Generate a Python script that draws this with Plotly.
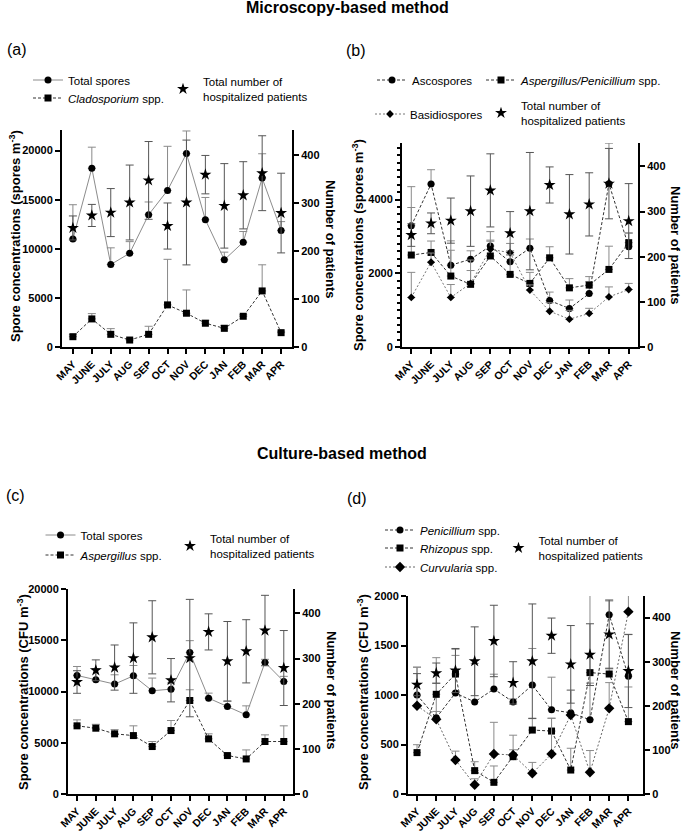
import plotly.graph_objects as go

# ---------------- data ----------------
months = ["MAY", "JUNE", "JULY", "AUG", "SEP", "OCT", "NOV", "DEC", "JAN", "FEB", "MAR", "APR"]

patients = [248, 274, 280, 301, 347, 252, 301, 359, 294, 316, 362, 279]
patients_sd = [25, 23, 50, 78, 81, 48, 130, 40, 88, 70, 78, 83]

# (a) microscopy: total spores and Cladosporium
total_micro = [11000, 18200, 8400, 9550, 13470, 15950, 19700, 12960, 8880, 10680, 17200, 11870]
total_micro_up = [3490, 2150, 1700, 1180, 1300, 4490, 2300, 2270, 780, 1080, 2480, 900]
clado = [1050, 2860, 1290, 710, 1290, 4290, 3440, 2420, 1900, 3130, 5710, 1460]
clado_up = [200, 540, 580, 150, 820, 4640, 2370, 300, 310, 150, 2660, 150]

# (b) microscopy: ascospores, Aspergillus/Penicillium, basidiospores
asco = [3290, 4420, 2220, 2380, 2740, 2310, 2680, 1260, 1045, 1450, 4430, 2720]
asco_up = [1060, 390, 660, 230, 390, 300, 250, 230, 230, 320, 1100, 365]
asppen = [2495, 2565, 1925, 1700, 2470, 1970, 1725, 2420, 1605, 1680, 2105, 2830]
asppen_up = [1290, 310, 700, 660, 400, 600, 300, 300, 250, 230, 630, 270]
basid = [1345, 2300, 1345, 1725, 2650, 2560, 1545, 970, 755, 910, 1360, 1560]
basid_up = [680, 250, 350, 350, 250, 250, 140, 230, 240, 140, 270, 165]

# (c) culture: total spores and Aspergillus
total_cult = [11570, 11140, 10720, 11530, 10070, 10230, 13810, 9350, 8540, 7720, 12840, 10980]
total_cult_up = [870, 1100, 910, 1010, 1240, 600, 1150, 490, 500, 880, 300, 500]
asp_cult = [6650, 6420, 5870, 5700, 4630, 6190, 9120, 5380, 3750, 3420, 5120, 5120]
asp_cult_up = [580, 380, 410, 950, 490, 980, 1050, 490, 150, 880, 650, 1530]

# (d) culture: Penicillium, Rhizopus, Curvularia
penic = [1000, 770, 1020, 930, 1060, 930, 1100, 850, 820, 750, 1810, 1190]
penic_up = [280, 350, 380, 390, 150, 30, 370, 330, 230, 370, 140, 420]
rhizo = [418, 1007, 1212, 236, 118, 377, 646, 636, 242, 1226, 1212, 731]
rhizo_up = [80, 370, 250, 90, 165, 70, 120, 130, 220, 800, 60, 350]
curvu = [892, 754, 343, 94, 404, 394, 209, 404, 798, 219, 865, 1842]
curvu_up = [390, 80, 90, 60, 320, 200, 110, 360, 250, 220, 260, 300]

# ---------------- helpers ----------------
W, H = 685, 840
def px(x):
    return x / W
def py(y):
    return 1 - y / H

FONT = "Liberation Sans, Arial, Helvetica, sans-serif"

fig = go.Figure()

ERR_COL = "#8a8a8a"
STAR_ERR_COL = "#555555"


def add_series(xa, ya, name, vals, up, symbol, size, lcol, dash, legend):
    fig.add_trace(go.Scatter(
        x=months, y=vals, xaxis=xa, yaxis=ya, name=name, legend=legend, showlegend=True,
        mode="lines+markers",
        line=dict(color=lcol, width=1, dash=dash),
        marker=dict(symbol=symbol, size=size, color="black"),
        error_y=dict(type="data", symmetric=False, array=up, arrayminus=[0] * len(up),
                     color=ERR_COL, thickness=1, width=4),
    ))


def add_stars(xa, ya, legend):
    fig.add_trace(go.Scatter(
        x=months, y=patients, xaxis=xa, yaxis=ya, showlegend=True,
        name="Total number of<br>hospitalized patients", legend=legend,
        mode="markers",
        marker=dict(symbol="star", size=9, color="black"),
        error_y=dict(type="data", array=patients_sd, color=STAR_ERR_COL, thickness=1, width=4),
    ))


DASH = "3px,2px"
DOT = "2px,2px"

# (a)
add_series("x", "y", "Total spores", total_micro, total_micro_up, "circle", 7, "#8c8c8c", "solid", "legend")
add_series("x", "y", "<i>Cladosporium</i> spp.", clado, clado_up, "square", 7, "#333333", DASH, "legend2")
add_stars("x", "y2", "legend3")

# (b)
add_series("x2", "y3", "Ascospores", asco, asco_up, "circle", 7, "#333333", DASH, "legend4")
add_series("x2", "y3", "<i>Aspergillus/Penicillium</i> spp.", asppen, asppen_up, "square", 7, "#333333", DASH, "legend5")
add_series("x2", "y3", "Basidiospores", basid, basid_up, "diamond", 6, "#777777", DOT, "legend6")
add_stars("x2", "y4", "legend7")

# (c)
add_series("x3", "y5", "Total spores", total_cult, total_cult_up, "circle", 7, "#8c8c8c", "solid", "legend8")
add_series("x3", "y5", "<i>Aspergillus</i> spp.", asp_cult, asp_cult_up, "square", 7, "#333333", DASH, "legend9")
add_stars("x3", "y6", "legend10")

# (d)
add_series("x4", "y7", "<i>Penicillium</i> spp.", penic, penic_up, "circle", 7, "#333333", DASH, "legend11")
add_series("x4", "y7", "<i>Rhizopus</i> spp.", rhizo, rhizo_up, "square", 7, "#333333", DASH, "legend12")
add_series("x4", "y7", "<i>Curvularia</i> spp.", curvu, curvu_up, "diamond", 8, "#666666", DOT, "legend13")
add_stars("x4", "y8", "legend14")

# ---------------- axes ----------------
xtick_font = dict(family=FONT, size=10.5, color="black", weight="bold")
ytick_font = dict(family=FONT, size=11, color="black", weight="bold")

def xax(dom, rng, anchor):
    return dict(domain=[px(dom[0]), px(dom[1])], range=list(rng), type="category", anchor=anchor,
                showline=True, linewidth=2, linecolor="black", ticks="outside", ticklen=5,
                tickwidth=2, tickcolor="black", tickangle=-45, tickfont=xtick_font,
                showgrid=False, zeroline=False, automargin=False)

def yax_left(dom, rng, dtick, anchor, minor=None):
    d = dict(domain=[py(dom[1]), py(dom[0])], range=list(rng), dtick=dtick, tick0=0,
             anchor=anchor, showline=True, linewidth=2, linecolor="black", ticks="outside",
             ticklen=5, tickwidth=2, tickcolor="black", tickfont=ytick_font, tickformat="d",
             showgrid=False, zeroline=False, automargin=False)
    if minor:
        d["minor"] = minor
    return d

def yax_right(rng, overlay, anchor):
    return dict(range=list(rng), dtick=100, tick0=0, overlaying=overlay, anchor=anchor, side="right",
                showline=True, linewidth=2, linecolor="black", ticks="outside", ticklen=5,
                tickwidth=2, tickcolor="black", tickfont=ytick_font, tickformat="d",
                showgrid=False, zeroline=False, automargin=False)

fig.update_layout(
    xaxis=xax((62, 292), (-0.576, 11.576), "y"),
    yaxis=yax_left((130, 347), (0, 22100), 5000, "x"),
    yaxis2=yax_right((0, 452), "y", "x"),
    xaxis2=xax((402, 638), (-0.47, 11.47), "y3"),
    yaxis3=yax_left((143, 347), (0, 5535), 2000, "x2",
                    minor=dict(dtick=200, tick0=0, ticks="outside", ticklen=3, tickwidth=1.5,
                               tickcolor="black", showgrid=False)),
    yaxis4=yax_right((0, 452), "y3", "x2"),
    xaxis3=xax((68, 293), (-0.48, 11.49), "y5"),
    yaxis5=yax_left((589, 794), (0, 20000), 5000, "x3"),
    yaxis6=yax_right((0, 454), "y5", "x3"),
    xaxis4=xax((408, 643), (-0.47, 11.76), "y7"),
    yaxis7=yax_left((596, 794), (0, 2000), 500, "x4"),
    yaxis8=yax_right((0, 449), "y7", "x4"),
)

# ---------------- legends ----------------
leg_font = dict(family=FONT, size=11.5, color="black")

def leg(x, y):
    return dict(x=px(x), y=py(y), xanchor="left", yanchor="middle", bgcolor="rgba(0,0,0,0)",
                borderwidth=0, font=leg_font, itemwidth=30, tracegroupgap=0,
                itemclick=False, itemdoubleclick=False, visible=True)

fig.update_layout(
    showlegend=True,
    legend=leg(28, 80), legend2=leg(28, 98), legend3=leg(163, 89),
    legend4=leg(372, 80), legend5=leg(481, 80), legend6=leg(370, 114), legend7=leg(481, 113),
    legend8=leg(40.5, 535), legend9=leg(40.5, 555), legend10=leg(170, 546),
    legend11=leg(380, 530), legend12=leg(380, 548), legend13=leg(380, 567), legend14=leg(498.5, 548),
)

# ---------------- annotations ----------------
ann = []
def text(x, y, t, size, bold=False, angle=0):
    ann.append(dict(x=px(x), y=py(y), xref="paper", yref="paper", text=t, showarrow=False,
                    textangle=angle, xanchor="center", yanchor="middle",
                    font=dict(family=FONT, size=size, color="black", weight="bold" if bold else "normal")))

text(347, 8, "Microscopy-based method", 16, bold=True)
text(342, 453, "Culture-based method", 16, bold=True)
text(17, 49, "(a)", 16)
text(356, 50, "(b)", 16)
text(15, 495, "(c)", 16)
text(357, 498, "(d)", 16)

ylab_micro = "Spore concentrations (spores m<sup>-3</sup>)"
ylab_cult = "Spore concentrations (CFU m<sup>-3</sup>)"
ylab_r = "Number of patients"
text(15, 236, ylab_micro, 13, bold=True, angle=-90)
text(331, 239, ylab_r, 13, bold=True, angle=90)
text(358, 245, ylab_micro, 13, bold=True, angle=-90)
text(676, 245, ylab_r, 13, bold=True, angle=90)
text(23, 692, ylab_cult, 13, bold=True, angle=-90)
text(332, 690, ylab_r, 13, bold=True, angle=90)
text(363, 692, ylab_cult, 13, bold=True, angle=-90)
text(676, 690, ylab_r, 13, bold=True, angle=90)

fig.update_layout(
    annotations=ann,
    width=W, height=H,
    margin=dict(l=0, r=0, t=0, b=0, pad=0, autoexpand=False),
    paper_bgcolor="white", plot_bgcolor="white",
    font=dict(family=FONT, color="black"),
)

fig.write_html("out.html", config={"displayModeBar": False},
               post_script="document.body.style.margin='0px';")
